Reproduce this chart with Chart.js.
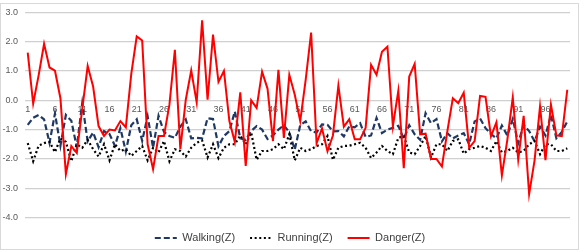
<!DOCTYPE html>
<html>
<head>
<meta charset="utf-8">
<script src="https://cdn.jsdelivr.net/npm/chart.js@4/dist/chart.umd.min.js"></script>
<style>
  html, body { margin: 0; padding: 0; background: #ffffff; }
  #wrap { width: 581px; height: 251px; position: relative; }
</style>
</head>
<body>
<div id="wrap"><canvas id="c" width="581" height="251"></canvas></div>
<script>
// ---- data ----
const categories = ["1","2","3","4","5","6","7","8","9","10","11","12","13","14","15","16","17","18","19","20",
  "21","22","23","24","25","26","27","28","29","30","31","32","33","34","35","36","37","38","39","40",
  "41","42","43","44","45","46","47","48","49","50","51","52","53","54","55","56","57","58","59","60",
  "61","62","63","64","65","66","67","68","69","70","71","72","73","74","75","76","77","78","79","80",
  "81","82","83","84","85","86","87","88","89","90","91","92","93","94","95","96","97","98","99","100"];
const xTickLabels = ["1","6","11","16","21","26","31","36","41","46","51","56","61","66","71","76","81","86","91","96"];
const yTickValues = [3, 2, 1, 0, -1, -2, -3, -4];
const seriesNames = ["Walking(Z)", "Running(Z)", "Danger(Z)"];

const walking = [-0.84,-0.60,-0.50,-0.65,-1.45,-0.45,-1.55,-0.50,-0.70,-1.60,
  -0.10,-1.40,-1.10,-1.60,-1.05,-1.15,-1.55,-0.95,-1.75,-0.85,
  -0.65,-1.38,-0.55,-1.62,-0.53,-1.08,-1.22,-1.28,-0.90,-0.65,
  -1.30,-1.28,-1.30,-0.61,-0.64,-1.57,-1.22,-1.05,-0.38,-1.30,
  -1.35,-1.05,-0.88,-1.00,-1.32,-1.20,-1.00,-0.85,-1.10,-1.68,
  -0.85,-0.72,-1.06,-1.10,-0.82,-0.84,-1.06,-1.05,-1.23,-0.89,
  -0.92,-0.78,-1.25,-1.20,-0.60,-1.12,-1.00,-0.94,-0.87,-1.32,
  -0.85,-1.16,-1.35,-0.44,-0.78,-0.64,-1.40,-1.12,-1.30,-1.20,
  -1.12,-1.50,-0.72,-0.62,-0.95,-1.15,-1.30,-0.86,-1.20,-0.64,
  -1.46,-0.84,-1.05,-1.40,-0.90,-1.20,-0.50,-1.29,-1.08,-0.72];

const running = [-1.46,-2.08,-1.55,-1.46,-1.42,-1.77,-1.30,-1.42,-2.08,-1.50,
  -1.62,-1.35,-1.67,-1.92,-1.50,-2.05,-1.50,-1.73,-1.67,-1.90,
  -1.73,-1.56,-2.05,-1.62,-1.78,-1.39,-2.08,-1.67,-1.73,-1.92,
  -1.62,-1.45,-1.37,-1.95,-1.50,-1.97,-1.62,-1.50,-1.50,-1.20,
  -1.50,-1.10,-2.03,-1.73,-1.73,-1.67,-1.50,-1.67,-1.16,-2.05,
  -1.62,-1.73,-1.67,-1.56,-1.50,-1.22,-2.03,-1.62,-1.56,-1.55,
  -1.50,-1.45,-1.62,-1.97,-1.78,-1.56,-1.73,-1.84,-1.28,-1.22,
  -1.78,-1.84,-1.56,-1.22,-1.95,-1.50,-1.50,-1.73,-1.39,-1.33,
  -1.82,-1.67,-1.62,-1.56,-1.62,-1.73,-1.39,-1.78,-1.73,-1.62,
  -1.78,-1.73,-1.50,-1.39,-1.84,-1.50,-1.50,-1.73,-1.73,-1.64];

const danger = [1.63,-0.11,0.85,1.93,1.12,1.01,0.07,-2.52,-1.56,-1.80,
  -0.30,1.17,0.47,-0.88,-1.22,-1.00,-1.03,-0.71,-0.92,0.90,
  2.18,2.04,-1.50,-2.35,-1.22,-1.22,-0.15,1.72,-1.67,0.02,
  1.02,-0.07,2.73,0.02,2.24,0.63,1.00,-0.71,-1.42,0.27,
  -2.24,0.00,-0.26,0.98,0.40,-1.39,1.04,-1.28,0.87,0.19,
  -0.71,0.70,2.31,-1.47,-0.96,-1.74,-1.20,0.50,-0.90,-0.65,
  -1.33,-1.33,-0.94,1.21,0.87,1.66,1.83,-0.88,0.33,-2.32,
  0.81,1.24,-1.16,-1.14,-2.00,-2.00,-2.26,-1.05,0.07,-0.10,
  0.26,-1.62,-1.39,0.15,0.12,-1.23,-0.75,-2.56,-1.35,0.10,
  -2.02,-0.53,-3.20,-2.05,-0.21,-2.04,-0.15,-1.20,-1.22,0.36];

// ---- chart ----
const frame = {
  id: 'frame',
  afterLayout(chart) {
    // centre the legend under the whole picture like the original
    if (chart.legend) { chart.legend.left += 4; chart.legend.right += 4; }
  },
  beforeDraw(chart) {
    const ctx = chart.ctx;
    ctx.save();
    ctx.fillStyle = '#ffffff';
    ctx.fillRect(0, 0, chart.width, chart.height);
    ctx.strokeStyle = '#d9d9d9';
    ctx.lineWidth = 1;
    ctx.strokeRect(0.5, 3.5, chart.width - 3, chart.height - 5);
    ctx.restore();
  }
};

const tickFont = { family: "'Liberation Sans', Arial, sans-serif", size: 9 };

new Chart(document.getElementById('c'), {
  type: 'line',
  data: {
    labels: categories,
    datasets: [
      { label: seriesNames[0], data: walking, borderColor: '#1f3864', backgroundColor: '#1f3864',
        borderWidth: 2.2, borderDash: [6, 3], pointRadius: 0, tension: 0, order: 2 },
      { label: seriesNames[1], data: running, borderColor: '#000000', backgroundColor: '#000000',
        borderWidth: 2.2, borderDash: [2, 2.6], pointRadius: 0, tension: 0, order: 1 },
      { label: seriesNames[2], data: danger, borderColor: '#ff0000', backgroundColor: '#ff0000',
        borderWidth: 2, pointRadius: 0, tension: 0, order: 0 }
    ]
  },
  options: {
    responsive: false,
    animation: false,
    layout: { padding: { left: 2, right: 11, top: 6.3, bottom: -2.5 } },
    plugins: {
      tooltip: { enabled: false },
      legend: {
        position: 'bottom',
        labels: {
          usePointStyle: true,
          pointStyle: 'line',
          pointStyleWidth: 22,
          padding: 15,
          color: '#404040',
          font: { family: "'Liberation Sans', Arial, sans-serif", size: 11 },
          sort: (a, b) => a.datasetIndex - b.datasetIndex,
          generateLabels: (chart) => chart.data.datasets.map((ds, i) => ({
            text: ds.label,
            datasetIndex: i,
            fillStyle: ds.borderColor,
            strokeStyle: ds.borderColor,
            lineWidth: ds.borderWidth,
            lineDash: ds.borderDash || [],
            lineCap: 'butt',
            pointStyle: 'line',
            fontColor: '#404040',
            hidden: false
          }))
        }
      }
    },
    scales: {
      x: {
        type: 'category',
        position: { y: 0 },
        offset: true,
        grid: { display: false, drawTicks: false },
        border: { display: false },
        afterFit: (s) => { s.height = 0; },
        ticks: {
          autoSkip: false,
          maxRotation: 0,
          minRotation: 0,
          padding: 4,
          color: '#595959',
          font: tickFont,
          callback: function (value, index) {
            const lab = categories[index];
            return xTickLabels.includes(lab) ? lab : '';
          }
        }
      },
      y: {
        min: -4,
        max: 3,
        afterFit: (s) => { s.width = 23; },
        afterBuildTicks: (s) => { s.ticks = yTickValues.map(v => ({ value: v })); },
        grid: { color: '#d0d0d0', lineWidth: 1.3, drawTicks: false },
        border: { display: false },
        ticks: {
          padding: 7,
          color: '#595959',
          font: tickFont,
          callback: (v) => Number(v).toFixed(1)
        }
      }
    }
  },
  plugins: [frame]
});
</script>
</body>
</html>
